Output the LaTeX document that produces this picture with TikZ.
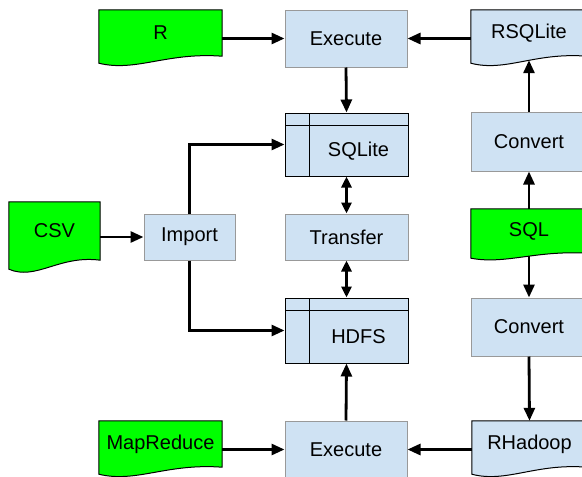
\documentclass[tikz,border=0pt]{standalone}
\usepackage{fontspec}
\setmainfont{Liberation Sans}
\usetikzlibrary{arrows.meta,calc,backgrounds}
\definecolor{boxblue}{HTML}{CFE2F3}
\definecolor{boxedge}{HTML}{999999}
\definecolor{docgreen}{HTML}{00FF00}
\newcommand\docpath[3]{%
  \draw[line width=1pt, fill=#2] (#1.north west) -- (#1.north east) -- (#1.south east)
    .. controls ($(#1.south west)!0.55!(#1.south east)+(0,{-0.6*#3})$)
       and ($(#1.south west)!0.3!(#1.south east)+(0,{2.3*#3})$) ..
    ($(#1.south west)+(0,#3)$) -- cycle;}
\begin{document}
\begin{tikzpicture}[x=1pt,y=-1pt,
  every node/.style={font=\fontsize{20}{24}\selectfont, inner sep=0pt},
  procbox/.style={draw=boxedge, fill=boxblue, line width=1pt},
  doc/.style={minimum height=46pt},
  storage/.style={draw=black, fill=boxblue, line width=1pt,
    path picture={
      \draw[line width=1pt] ([yshift=-12pt]path picture bounding box.north west) -- ([yshift=-12pt]path picture bounding box.north east);
      \draw[line width=1pt] ([xshift=24pt]path picture bounding box.north west) -- ([xshift=24pt]path picture bounding box.south west);}},
  conn/.style={line width=2.8pt, -{Triangle[length=13pt,width=11pt]}},
  dconn/.style={line width=2.8pt, {Triangle[length=11pt,width=10pt]}-{Triangle[length=11pt,width=10pt]}}]
\clip (0,0) rectangle (582,477);
\begin{scope}[on background layer]
  \fill[white] (0,0) rectangle (582,477);
\end{scope}
% nodes
\node[procbox, minimum width=122pt, minimum height=57pt] (exec1) at (346,38.5) {Execute};
\node[doc, minimum width=123pt] (r) at (160.5,33) {R};
\node[doc, minimum width=116pt] (rsqlite) at (529,33) {RSQLite};
\node[storage, minimum width=123pt, minimum height=63pt] (sqlite) at (346.5,144.5) {};
\node (sqlitet) at (358.5,151) {SQLite};
\node[procbox, minimum width=116pt, minimum height=59pt] (conv1) at (529,141.5) {Convert};
\node[doc, minimum width=91pt, minimum height=58pt] (csv) at (54.5,231) {CSV};
\node[procbox, minimum width=91pt, minimum height=46pt] (import) at (189.5,237) {Import};
\node[procbox, minimum width=123pt, minimum height=46pt] (transfer) at (346.5,237) {Transfer};
\node[doc, minimum width=116pt, minimum height=44pt] (sql) at (529,231) {SQL};
\node[storage, minimum width=123pt, minimum height=65pt] (hdfs) at (346.5,330.5) {};
\node (hdfst) at (358.5,337) {HDFS};
\node[procbox, minimum width=116pt, minimum height=58pt] (conv2) at (529,327) {Convert};
\node[doc, minimum width=123pt] (mr) at (160.5,444) {MapReduce};
\node[procbox, minimum width=122pt, minimum height=57pt] (exec2) at (346,449.5) {Execute};
\node[doc, minimum width=115pt] (rh) at (529.5,444) {RHadoop};
% document shapes
\begin{scope}[on background layer]
  \docpath{r}{docgreen}{7}
  \docpath{rsqlite}{boxblue}{7}
  \docpath{csv}{docgreen}{9}
  \docpath{sql}{docgreen}{5}
  \docpath{mr}{docgreen}{7}
  \docpath{rh}{boxblue}{7}
\end{scope}
% connectors
\draw[conn] (r.east |- exec1.west) -- (exec1.west);
\draw[conn] (rsqlite.west |- exec1.east) -- (exec1.east);
\draw[conn] (exec1.south) -- (sqlite.north);
\draw[conn] (import.north) |- (sqlite.west);
\draw[conn] (import.south) |- (hdfs.west);
\draw[conn] (csv.east |- import.west) -- (import.west);
\draw[dconn] (sqlite.south) -- (transfer.north);
\draw[dconn] (transfer.south) -- (hdfs.north);
\draw[conn] (exec2.north) -- (hdfs.south);
\draw[conn] (mr.east |- exec2.west) -- (exec2.west);
\draw[conn] (rh.west |- exec2.east) -- (exec2.east);
\draw[conn] (sql.north) -- (conv1.south);
\draw[conn] (conv1.north) -- ([yshift=-4pt]rsqlite.south);
\draw[conn] ([yshift=-3pt]sql.south) -- (conv2.north);
\draw[conn] (conv2.south) -- (rh.north);
\end{tikzpicture}
\end{document}
